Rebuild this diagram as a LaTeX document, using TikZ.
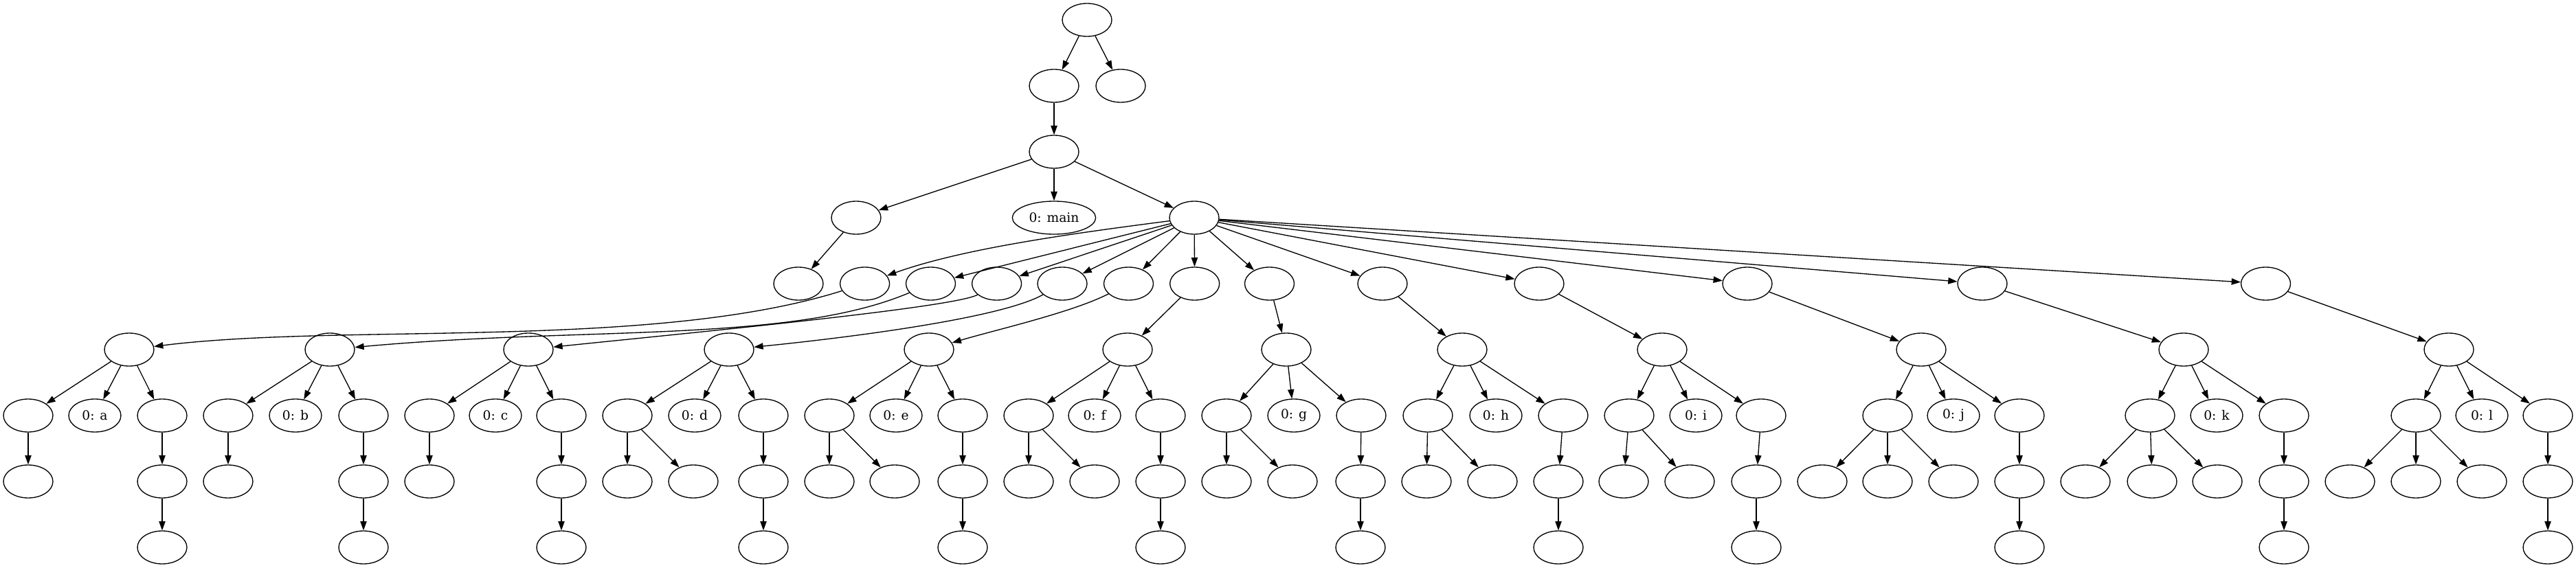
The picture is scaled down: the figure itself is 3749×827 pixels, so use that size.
\documentclass[tikz,border=0pt]{standalone}
\usepackage{fontspec}
\setmainfont{DejaVu Serif}
\usetikzlibrary{arrows.meta,shapes.geometric}

\begin{document}
\begin{tikzpicture}[x=0.75pt, y=-0.75pt,
		every node/.style={draw, ellipse, line width=1pt, minimum width=54pt, minimum height=36pt, inner sep=0pt, font=\fontsize{14}{16}\selectfont},
		namebox/.style={minimum width=57pt},
		edge/.style={-{Triangle[length=10pt,width=7pt]}, line width=1pt}]
		\useasboundingbox (0,0) rectangle (3749,827);

		\node (top) at (1582, 29) {};
		\node (ua) at (1534, 125) {};
		\node (ub) at (1631, 125) {};
		\node (mid) at (1534, 221) {};
		\node (left) at (1246, 317) {};
		\node[minimum width=91pt] (main) at (1534, 317) {0: main};
		\node (big) at (1738, 317) {};
		\node (lk) at (1162, 413) {};

		\foreach \s/\t in {top/ua, top/ub, ua/mid, mid/left, mid/main, mid/big, left/lk} {
			\draw[edge] (\s) -- (\t);
		}

		\foreach \i/\x in {1/1258.6, 2/1354.5, 3/1450.6, 4/1546, 5/1642.5, 6/1738.7, 7/1847.5, 8/2012, 9/2240, 10/2543, 11/2885, 12/3297.5} {
			\node (c\i) at (\x, 413) {};
		}
		\draw[edge] (big) .. controls (1560,340) and (1400,362) .. (c1);
		\foreach \i in {2,...,12} {
			\draw[edge] (big) -- (c\i);
		}

		\foreach \t/\hx/\lx/\mx/\rx/\qx in {a/188/41/138/236/236, b/480/332/430/529/529, c/769/625/721/817/817, d/1061/913/1011/1111/1111, e/1352/1207/1304/1401/1401, f/1641/1497/1593/1689/1689, g/1872/1785/1883/1981/1980, h/2128/2078/2177/2275/2268, i/2419/2371/2468/2563/2556, j/2796/2747/2843/2939/2939, k/3178/3129/3226/3324/3324, l/3564/3516/3612/3708/3708} {
			\node (h\t) at (\hx, 509) {};
			\node (p\t) at (\lx, 605) {};
			\node[namebox] (n\t) at (\mx, 605) {0: \t};
			\node (q\t) at (\rx, 605) {};
			\node (q\t1) at (\qx, 701) {};
			\node (q\t2) at (\qx, 797) {};
			\foreach \s/\u in {h\t/p\t, h\t/n\t, h\t/q\t, q\t/q\t1, q\t1/q\t2} {
				\draw[edge] (\s) -- (\u);
			}
		}

		\foreach \t/\k/\x in {a/1/41, b/1/332, c/1/625, d/1/913, d/2/1009, e/1/1207, e/2/1302, f/1/1497, f/2/1593, g/1/1785, g/2/1881, h/1/2076, h/2/2172, i/1/2363, i/2/2459, j/1/2652, j/2/2747, j/3/2843, k/1/3035, k/2/3132, k/3/3227, l/1/3420, l/2/3516, l/3/3612} {
			\node (p\t\k) at (\x, 701) {};
			\draw[edge] (p\t) -- (p\t\k);
		}

		% long edges from the second row of children
		\draw[edge] (c1) .. controls (950,510) and (500,470) .. (ha);
		\draw[edge] (c2) .. controls (1150,500) and (850,475) .. (hb);
		\draw[edge] (c3) .. controls (1390,448) and (1000,485) .. (hc);
		\draw[edge] (c4) .. controls (1460,462) and (1250,490) .. (hd);
		\draw[edge] (c5) .. controls (1560,455) and (1450,480) .. (he);
		\foreach \i/\t in {6/f, 7/g, 8/h, 9/i, 10/j, 11/k, 12/l} {
			\draw[edge] (c\i) -- (h\t);
		}
	\end{tikzpicture}
\end{document}
